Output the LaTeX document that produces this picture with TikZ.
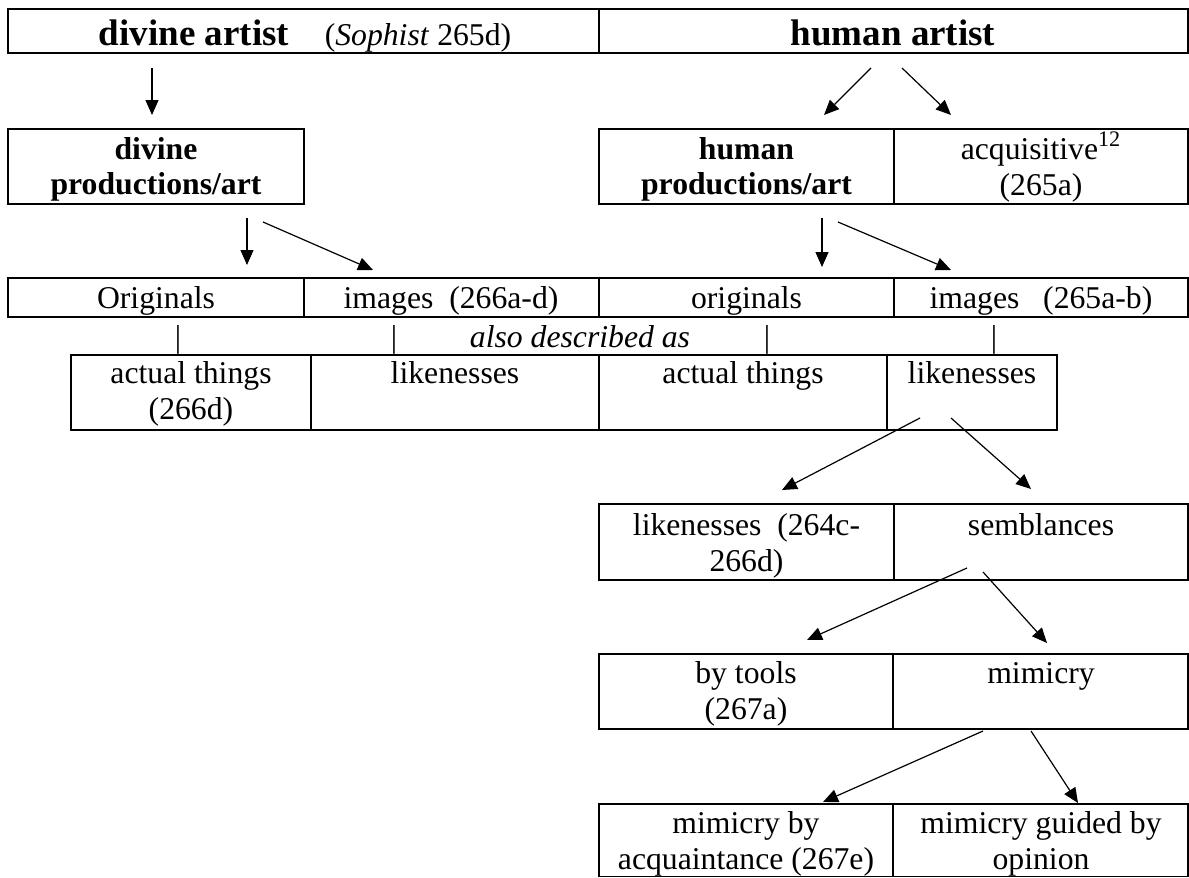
\documentclass[tikz,border=0pt]{standalone}
\usepackage{fontspec}
\setmainfont{Liberation Serif}
\usetikzlibrary{arrows.meta,fit}
\newcommand\twoline[2]{\begin{tabular}[t]{@{}c@{}}#1\\#2\end{tabular}}
\begin{document}
\begin{tikzpicture}[x=0.5pt,y=-0.5pt,
  cellA/.style={draw, line width=0.85pt, inner sep=0pt},
  cellB/.style={draw, line width=0.65pt, inner sep=0pt},
  txt/.style={inner sep=0pt, anchor=base, font=\fontsize{15.85}{18.25}\selectfont},
  btxt/.style={txt, font=\fontsize{15.85}{17.6}\selectfont\bfseries},
  head/.style={txt, font=\fontsize{18.5}{22}\selectfont\bfseries},
  itxt/.style={txt, font=\fontsize{15.85}{18.25}\selectfont\itshape},
  arr/.style={-{Triangle[length=7.5pt,width=6.5pt]}, line width=0.6pt}]
\useasboundingbox (0,0) rectangle (1189,878);
% ---- cells ----
\node[cellA, fit={(8,9) (599,53)}] (da) {};
\node[cellA, fit={(599,9) (1188,53)}] (ha) {};
\node[cellA, fit={(8,129) (304,204)}] (dp) {};
\node[cellA, fit={(599,129) (894,204)}] (hp) {};
\node[cellA, fit={(894,129) (1188,204)}] (acq) {};
\node[cellB, fit={(8,278) (304,317)}] (og1) {};
\node[cellB, fit={(304,278) (599,317)}] (im1) {};
\node[cellB, fit={(599,278) (894,317)}] (og2) {};
\node[cellB, fit={(894,278) (1188,317)}] (im2) {};
\node[cellB, fit={(71,355) (311,430)}] (at1) {};
\node[cellB, fit={(311,355) (599,430)}] (lk1) {};
\node[cellB, fit={(599,355) (887,430)}] (at2) {};
\node[cellB, fit={(887,355) (1057,430)}] (lk2) {};
\node[cellB, fit={(599,504) (894,580)}] (lk3) {};
\node[cellB, fit={(894,504) (1188,580)}] (sem) {};
\node[cellB, fit={(599,654) (893,729)}] (tool) {};
\node[cellB, fit={(893,654) (1188,729)}] (mim) {};
\node[cellB, fit={(599,804) (893,876.5)}] (mba) {};
\node[cellB, fit={(893,804) (1188,876.5)}] (mgo) {};
% ---- texts ----
\node[head] (tda) at (194,45) {divine artist};
\node[txt] (tso) at (418,45) {(\textit{Sophist} 265d)};
\node[head] (tha) at (893,45) {human artist};
\node[btxt] (tdp) at (156,159) {\twoline{divine}{productions/art}};
\node[btxt] (thp) at (746.5,159) {\twoline{human}{productions/art}};
\node[txt] (tacq) at (1041,159) {\twoline{acquisitive\textsuperscript{12}}{(265a)}};
\node[txt] (tog1) at (156,308) {Originals};
\node[txt] (tim1) at (451,308) {images\hspace{0.5em}(266a-d)};
\node[txt] (tog2) at (746.5,308) {originals};
\node[txt] (tim2) at (1041,308) {images\hspace{0.75em}(265a-b)};
\node[txt] (p1) at (178,347) {|};
\node[txt] (p2) at (394,347) {|};
\node[itxt] (also) at (580,347) {also described as};
\node[txt] (p3) at (767,347) {|};
\node[txt] (p4) at (994,347) {|};
\node[txt] (tat1) at (191,383) {\twoline{actual things}{(266d)}};
\node[txt] (tlk1) at (455,383) {likenesses};
\node[txt] (tat2) at (743,383) {actual things};
\node[txt] (tlk2) at (972,383) {likenesses};
\node[txt] (tlk3) at (746.5,535) {\twoline{likenesses\hspace{0.5em}(264c-}{266d)}};
\node[txt] (tsem) at (1041,535) {semblances};
\node[txt] (ttool) at (746,683) {\twoline{by tools}{(267a)}};
\node[txt] (tmim) at (1041,683) {mimicry};
\node[txt] (tmba) at (746,833) {\twoline{mimicry by}{acquaintance (267e)}};
\node[txt] (tmgo) at (1041,833) {\twoline{mimicry guided by}{opinion}};
% ---- arrow end points ----
\coordinate (a1s) at (152,68);  \coordinate (a1e) at (152,115);
\coordinate (a2s) at (871,68);  \coordinate (a2e) at (824,115);
\coordinate (a3s) at (902,68);  \coordinate (a3e) at (951,115);
\coordinate (a4s) at (247,218); \coordinate (a4e) at (247,265);
\coordinate (a5s) at (263,222); \coordinate (a5e) at (373,270);
\coordinate (a6s) at (822,218); \coordinate (a6e) at (822,267);
\coordinate (a7s) at (838,222); \coordinate (a7e) at (951,270);
\coordinate (a8s) at (920,418); \coordinate (a8e) at (782,490);
\coordinate (a9s) at (951,418); \coordinate (a9e) at (1031,489);
\coordinate (a10s) at (967,568); \coordinate (a10e) at (807,640);
\coordinate (a11s) at (983,572); \coordinate (a11e) at (1047,643);
\coordinate (a12s) at (983,731); \coordinate (a12e) at (823,802);
\coordinate (a13s) at (1031,731); \coordinate (a13e) at (1078,803);
\foreach \i in {1,...,13} \draw[arr] (a\i s) -- (a\i e);
\end{tikzpicture}
\end{document}
